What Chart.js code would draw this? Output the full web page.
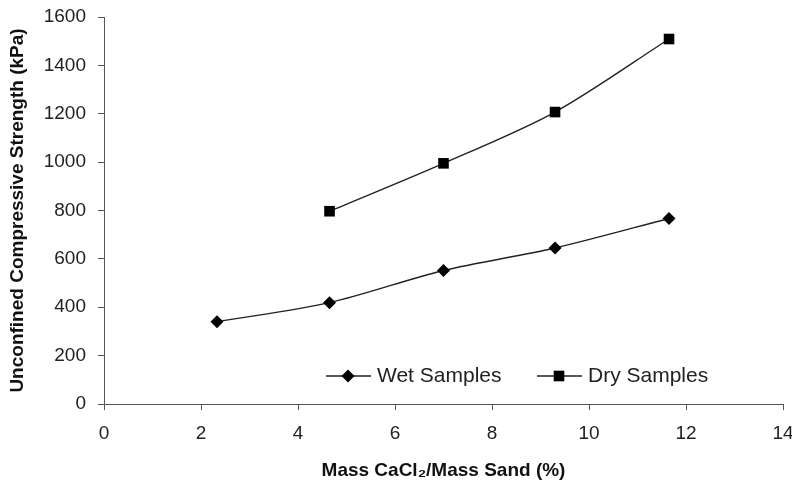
<!DOCTYPE html>
<html>
<head>
<meta charset="utf-8">
<script src="https://cdn.jsdelivr.net/npm/chart.js@4"></script>
<style>
  html, body { margin: 0; padding: 0; background: #fff; }
  #wrap { width: 792px; height: 486px; }
</style>
</head>
<body>
<div id="wrap"><canvas id="grafico"></canvas></div>
<script>
// valores
var wetX = [2.33, 4.65, 7.0, 9.3, 11.65];
var wetY = [340, 419, 552, 645, 767];
var dryX = [4.65, 7.0, 9.3, 11.65];
var dryY = [797, 995, 1207, 1509];
var xTicks = [0, 2, 4, 6, 8, 10, 12, 14];
var yTicks = [0, 200, 400, 600, 800, 1000, 1200, 1400, 1600];

function pares(xs, ys) {
	var out = [];
	for (var i = 0; i < xs.length; i++) out.push({ x: xs[i], y: ys[i] });
	return out;
}

var fonte = "'Liberation Sans', Arial, sans-serif";

// legenda dentro da area do grafico (linha + marcador + texto)
var legendaPlugin = {
	id: "legendaInterna",
	afterDraw: function (chart) {
		var ctx = chart.ctx;
		var itens = [
			{ x: 326, texto: "Wet Samples", ds: 0 },
			{ x: 537, texto: "Dry Samples", ds: 1 }
		];
		var y = 376;
		ctx.save();
		itens.forEach(function (it) {
			var ds = chart.data.datasets[it.ds];
			ctx.strokeStyle = ds.borderColor;
			ctx.lineWidth = ds.borderWidth;
			ctx.beginPath();
			ctx.moveTo(it.x, y);
			ctx.lineTo(it.x + 45, y);
			ctx.stroke();
			ctx.fillStyle = ds.pointBackgroundColor;
			Chart.helpers.drawPoint(ctx, { pointStyle: ds.pointStyle, radius: ds.pointRadius, borderWidth: 0 }, it.x + 22, y);
			ctx.fillStyle = "#222";
			ctx.font = "21px " + fonte;
			ctx.textBaseline = "middle";
			ctx.fillText(it.texto, it.x + 51, y);
		});
		ctx.restore();
	}
};

new Chart(document.getElementById("grafico"), {
	type: "scatter",
	data: {
		datasets: [
			{
				label: "Wet Samples",
				data: pares(wetX, wetY),
				showLine: true,
				borderColor: "#222",
				borderWidth: 1.4,
				tension: 0.3,
				pointStyle: "rectRot",
				pointRadius: 6.5,
				pointBackgroundColor: "#000",
				pointBorderWidth: 0
			},
			{
				label: "Dry Samples",
				data: pares(dryX, dryY),
				showLine: true,
				borderColor: "#222",
				borderWidth: 1.4,
				tension: 0.3,
				pointStyle: "rect",
				pointRadius: 7.5,
				pointBackgroundColor: "#000",
				pointBorderWidth: 0
			}
		]
	},
	options: {
		responsive: true,
		maintainAspectRatio: false,
		animation: false,
		layout: { padding: { top: 17, right: 0, left: 0, bottom: 0 } },
		plugins: {
			legend: { display: false },
			tooltip: { enabled: false }
		},
		scales: {
			x: {
				type: "linear",
				min: 0,
				max: 14,
				afterBuildTicks: function (s) { s.ticks = xTicks.map(function (v) { return { value: v }; }); },
				afterFit: function (s) { s.height = 82; s.paddingRight = 9; },
				grid: { display: true, drawOnChartArea: false, tickLength: 6, color: "#555" },
				border: { color: "#555", width: 1 },
				ticks: { color: "#222", font: { family: fonte, size: 19 }, padding: 12, maxRotation: 0, callback: function (v) { return String(v); } },
				title: { display: true, text: "Mass CaCl\u2082/Mass Sand (%)", color: "#111", font: { family: fonte, size: 19, weight: "bold" }, padding: { top: 8 } }
			},
			y: {
				min: 0,
				max: 1600,
				afterBuildTicks: function (s) { s.ticks = yTicks.map(function (v) { return { value: v }; }); },
				afterFit: function (s) { s.width = 104; s.paddingTop = 0; s.paddingBottom = 0; },
				grid: { display: true, drawOnChartArea: false, tickLength: 6, color: "#555" },
				border: { color: "#555", width: 1 },
				ticks: { color: "#222", font: { family: fonte, size: 19 }, padding: 12, callback: function (v) { return String(v); } },
				title: { display: true, text: "Unconfined Compressive Strength (kPa)", color: "#111", font: { family: fonte, size: 19, weight: "bold" }, padding: { top: 6, bottom: 2 } }
			}
		}
	},
	plugins: [legendaPlugin]
});
</script>
</body>
</html>
